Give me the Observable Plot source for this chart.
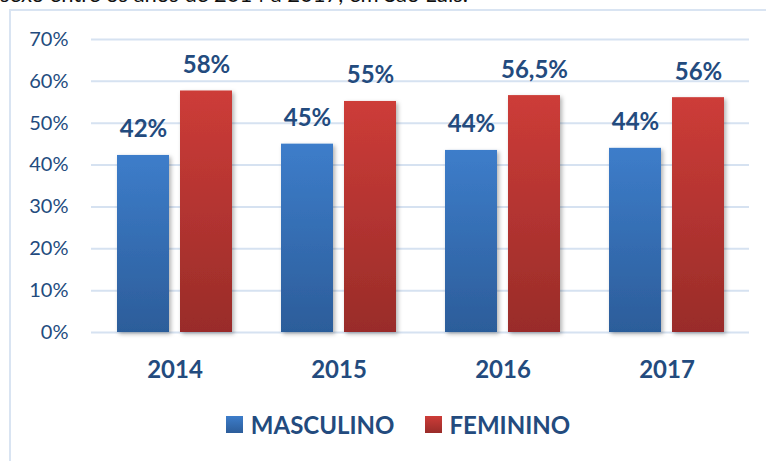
<!DOCTYPE html>
<html>
<head>
<meta charset="utf-8">
<script src="https://cdn.jsdelivr.net/npm/d3@7"></script>
<script src="https://cdn.jsdelivr.net/npm/@observablehq/plot@0.6"></script>
<style>
  html, body { margin: 0; padding: 0; background: #fff; width: 766px; height: 461px; overflow: hidden; }
  #page { position: relative; width: 766px; height: 461px; overflow: hidden; font-family: Lato, "Open Sans", sans-serif; }
  #topText { position: absolute; left: 0; top: -17px; font-size: 22px; line-height: 22px; color: #111; white-space: nowrap; font-family: Lato, sans-serif; }
  #frame { position: absolute; left: 9px; top: 9px; width: 800px; height: 500px; border-left: 2px solid #d9e4f2; border-top: 2px solid #d9e4f2; box-sizing: border-box; }
  #grid, #chart { position: absolute; left: 0; top: 0; }
  #legend { position: absolute; left: 0; top: 410px; width: 766px; display: flex; justify-content: center; gap: 30px; padding-left: 30px; box-sizing: border-box; font-family: Lato, sans-serif; font-weight: 700; font-size: 24px; color: #234b7e; }
  .item { display: flex; align-items: center; gap: 8px; }
  .sw { width: 17px; height: 17px; display: inline-block; }
</style>
</head>
<body>
<div id="page">
  <div id="topText">sexo entre os anos de 2014 a 2017, em São Luís.</div>
  <div id="frame"></div>
  <div id="grid"></div>
  <div id="chart"></div>
  <div id="legend"></div>
</div>
<script>
const years = ["2014", "2015", "2016", "2017"];
const seriesNames = ["MASCULINO", "FEMININO"];
const masculino = [42.3, 45, 43.5, 44];
const feminino = [57.7, 55.2, 56.6, 56.1];
const masculinoLabels = ["42%", "45%", "44%", "44%"];
const femininoLabels = ["58%", "55%", "56,5%", "56%"];
const yTicks = [0, 10, 20, 30, 40, 50, 60, 70];

const colors = {
  MASCULINO: ["#3d7dca", "#2c5d9a"],
  FEMININO: ["#cd3c38", "#992c29"]
};

const data = [];
years.forEach((y, i) => {
  data.push({year: y, sex: "MASCULINO", value: masculino[i], label: masculinoLabels[i]});
  data.push({year: y, sex: "FEMININO", value: feminino[i], label: femininoLabels[i]});
});

const textColor = "#234b7e";
const layout = {width: 766, height: 395, marginLeft: 91, marginRight: 17, marginTop: 39, marginBottom: 63};

function defsMark() {
  const defs = d3.create("svg:defs");
  for (const name of seriesNames) {
    const g = defs.append("linearGradient").attr("id", "grad-" + name).attr("x1", 0).attr("y1", 0).attr("x2", 0).attr("y2", 1);
    g.append("stop").attr("offset", "0%").attr("stop-color", colors[name][0]);
    g.append("stop").attr("offset", "100%").attr("stop-color", colors[name][1]);
  }
  const f = defs.append("filter").attr("id", "shadow").attr("x", "-20%").attr("y", "-10%").attr("width", "140%").attr("height", "130%");
  f.append("feDropShadow").attr("dx", 2).attr("dy", 2).attr("stdDeviation", 2).attr("flood-color", "#000").attr("flood-opacity", 0.3);
  return defs.node();
}

// Background layer: continuous gridlines + y axis
const grid = Plot.plot({
  ...layout,
  style: {fontFamily: "Lato, sans-serif", background: "transparent"},
  y: {domain: [0, 70], label: null},
  marks: [
    Plot.ruleY(yTicks, {y: d => d, stroke: "#d6e2f1", strokeWidth: 2}),
    Plot.axisY(yTicks, {tickSize: 0, tickPadding: 23, tickFormat: d => d + "%", fontSize: 20, fill: textColor, label: null})
  ]
});
document.getElementById("grid").appendChild(grid);

// Foreground layer: grouped bars
const chart = Plot.plot({
  ...layout,
  style: {fontFamily: "Lato, sans-serif", background: "transparent"},
  fx: {domain: years, paddingInner: 0.3, paddingOuter: 0.15, label: null},
  x: {domain: seriesNames, paddingInner: 0.175, paddingOuter: 0, axis: null},
  y: {domain: [0, 70], label: null, axis: null},
  marks: [
    defsMark,
    Plot.barY(data, {fx: "year", x: "sex", y: "value", fill: d => "url(#grad-" + d.sex + ")"}),
    Plot.text(data, {fx: "year", x: "sex", y: "value", text: "label", dy: -18, lineAnchor: "bottom", fill: textColor, fontSize: 24, fontWeight: 700}),
    Plot.axisFx({anchor: "bottom", tickSize: 0, tickPadding: 28, fontSize: 24, fontWeight: 700, fill: textColor, label: null})
  ]
});
d3.select(chart).selectAll("g[aria-label='bar'] rect").attr("filter", "url(#shadow)");
document.getElementById("chart").appendChild(chart);

const legend = d3.select("#legend");
for (const name of seriesNames) {
  const it = legend.append("div").attr("class", "item");
  it.append("span").attr("class", "sw").style("background", `linear-gradient(${colors[name][0]}, ${colors[name][1]})`);
  it.append("span").text(name);
}
</script>
</body>
</html>
